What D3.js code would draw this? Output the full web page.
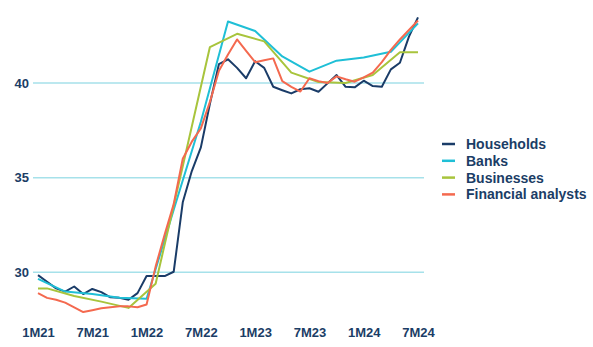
<!DOCTYPE html>
<html>
<head>
<meta charset="utf-8">
<script src="https://cdn.jsdelivr.net/npm/d3@7"></script>
<style>
  body { margin: 0; background: #fff; }
  svg { display: block; }
  text { font-family: "Liberation Sans", Arial, sans-serif; font-weight: bold; fill: #1b3d66; }
</style>
</head>
<body>
<svg id="chart" width="593" height="347"></svg>
<script>
// Monthly categories, January 2021 to July 2024
const months = [
  "1M21","2M21","3M21","4M21","5M21","6M21","7M21","8M21","9M21","10M21","11M21","12M21",
  "1M22","2M22","3M22","4M22","5M22","6M22","7M22","8M22","9M22","10M22","11M22","12M22",
  "1M23","2M23","3M23","4M23","5M23","6M23","7M23","8M23","9M23","10M23","11M23","12M23",
  "1M24","2M24","3M24","4M24","5M24","6M24","7M24"
];
const tickLabels = ["1M21","7M21","1M22","7M22","1M23","7M23","1M24","7M24"];
const yTicks = [30, 35, 40];

// Monthly survey
const households = [
  29.85, 29.5, 29.15, 28.98, 29.25, 28.85, 29.12, 28.95, 28.68, 28.65, 28.55, 28.9,
  29.8, 29.8, 29.8, 30.03, 33.7, 35.35, 36.6, 38.9, 41.0, 41.25, 40.8, 40.25,
  41.15, 40.8, 39.8, 39.62, 39.45, 39.67, 39.72, 39.54, 39.98, 40.42, 39.8, 39.77,
  40.12, 39.84, 39.8, 40.72, 41.07, 42.45, 43.47
];
// Quarterly survey (null = no observation that month)
const banks = [
  29.65, null, null, 28.98, null, null, 28.85, null, null, 28.65, null, null,
  28.6, null, null, 33.3, null, null, 37.95, null, null, 43.25, null, null,
  42.75, null, null, 41.4, null, null, 40.6, null, null, 41.18, null, null,
  41.35, null, null, 41.65, null, null, 43.15
];
const businesses = [
  29.15, 29.15, null, null, 28.75, null, null, 28.45, null, null, 28.12, null,
  null, 29.4, null, null, 35.6, null, null, 41.9, null, null, 42.6, null,
  null, 42.2, null, null, 40.55, null, null, 40.05, null, null, 40.0, null,
  null, 40.42, null, null, 41.62, null, 41.62
];
const analysts = [
  28.9, 28.65, 28.55, 28.4, 28.15, 27.9, 28.0, 28.1, 28.15, 28.2, 28.2, 28.15,
  28.3, 30.3, 32.0, 33.6, 36.0, 36.9, 37.6, 39.0, 40.65, 41.5, 42.3, 41.7,
  41.1, 41.2, 41.3, 40.1, 39.8, 39.55, 40.25, 40.1, 40.0, 40.35, 40.2, 40.07,
  40.3, 40.55, 41.1, 41.75, 42.3, 42.8, 43.3
];

const seriesNames = ["Households", "Banks", "Businesses", "Financial analysts"];
const seriesColors = ["#1a3c68", "#1fbfd6", "#a8c43c", "#f4694f"];
const seriesValues = [households, banks, businesses, analysts];

const svg = d3.select("#chart");

const x = d3.scalePoint().domain(months).range([38, 418]);
const y = d3.scaleLinear().domain([30, 40]).range([272.3, 83]);

// Horizontal gridlines
svg.append("g")
  .selectAll("line")
  .data(yTicks)
  .join("line")
  .attr("x1", 33).attr("x2", 424)
  .attr("y1", d => y(d)).attr("y2", d => y(d))
  .attr("stroke", "#a6e1ea")
  .attr("stroke-width", 1.5);

// Y axis labels
const yAxis = svg.append("g")
  .attr("transform", "translate(29,0)")
  .call(d3.axisLeft(y).tickValues(yTicks).tickSize(0).tickPadding(0));
yAxis.select(".domain").remove();
yAxis.selectAll("text").attr("font-size", 13).attr("font-family", null);

// X axis labels
const xAxis = svg.append("g")
  .attr("transform", "translate(0,328)")
  .call(d3.axisBottom(x).tickValues(tickLabels).tickSize(0).tickPadding(0));
xAxis.select(".domain").remove();
xAxis.selectAll("text").attr("font-size", 13).attr("font-family", null);

// Lines
const line = d3.line()
  .x(d => x(d.m))
  .y(d => y(d.v));

seriesValues.forEach((vals, i) => {
  const pts = vals
    .map((v, k) => ({ m: months[k], v }))
    .filter(d => d.v !== null);
  svg.append("path")
    .datum(pts)
    .attr("fill", "none")
    .attr("stroke", seriesColors[i])
    .attr("stroke-width", 2)
    .attr("stroke-linejoin", "round")
    .attr("d", line);
});

// Legend
const legend = svg.append("g")
  .selectAll("g")
  .data(seriesNames)
  .join("g")
  .attr("transform", (d, i) => `translate(442,${144 + i * 16.8})`);
legend.append("line")
  .attr("x1", 0).attr("x2", 13)
  .attr("stroke", (d, i) => seriesColors[i])
  .attr("stroke-width", 2.5);
legend.append("text")
  .attr("x", 24)
  .attr("dy", "0.35em")
  .attr("font-size", 14)
  .text(d => d);
</script>
</body>
</html>
